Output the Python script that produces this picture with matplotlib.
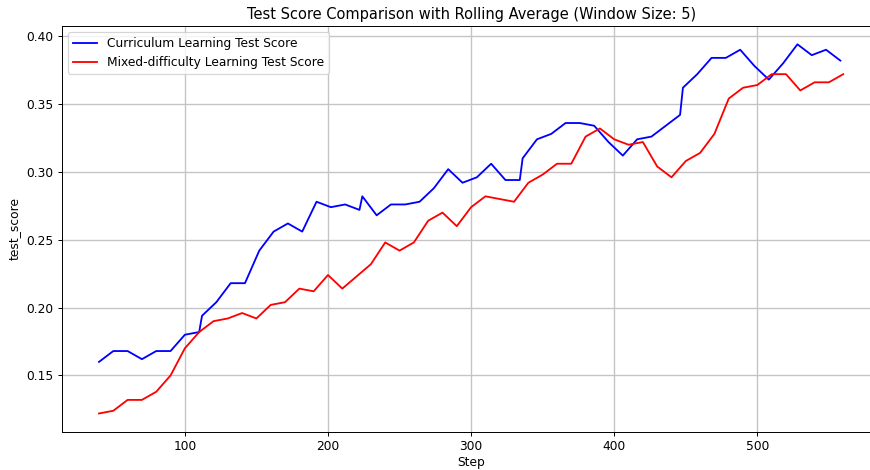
import matplotlib
matplotlib.use('Agg')
import matplotlib.pyplot as plt

# ── Dati (media mobile, finestra 5) ─────────────────────────────────────
# curriculum: log ogni 10 step dentro l'epoca + fine epoca (112 step/epoca)
curr_steps = [40, 50, 60, 70, 80, 90, 100, 110,
              112, 122, 132, 142, 152, 162, 172, 182, 192, 202, 212, 222,
              224, 234, 244, 254, 264, 274, 284, 294, 304, 314, 324, 334,
              336, 346, 356, 366, 376, 386, 396, 406, 416, 426, 436, 446,
              448, 458, 468, 478, 488, 498, 508, 518, 528, 538, 548, 558]
curr_score = [0.160, 0.168, 0.168, 0.162, 0.168, 0.168, 0.180, 0.182,
              0.194, 0.204, 0.218, 0.218, 0.242, 0.256, 0.262, 0.256, 0.278, 0.274, 0.276, 0.272,
              0.282, 0.268, 0.276, 0.276, 0.278, 0.288, 0.302, 0.292, 0.296, 0.306, 0.294, 0.294,
              0.310, 0.324, 0.328, 0.336, 0.336, 0.334, 0.322, 0.312, 0.324, 0.326, 0.334, 0.342,
              0.362, 0.372, 0.384, 0.384, 0.390, 0.378, 0.368, 0.380, 0.394, 0.386, 0.390, 0.382]

mixed_steps = list(range(40, 561, 10))
mixed_score = [0.122, 0.124, 0.132, 0.132, 0.138, 0.150, 0.170, 0.182,
               0.190, 0.192, 0.196, 0.192, 0.202, 0.204, 0.214, 0.212, 0.224,
               0.214, 0.223, 0.232, 0.248, 0.242, 0.248, 0.264, 0.270, 0.260, 0.274,
               0.282, 0.280, 0.278, 0.292, 0.298, 0.306, 0.306, 0.326, 0.332,
               0.324, 0.320, 0.322, 0.304, 0.296, 0.308, 0.314, 0.328, 0.354,
               0.362, 0.364, 0.372, 0.372, 0.360, 0.366, 0.366, 0.372]

# ── Grafico ──────────────────────────────────────────────────────────────
DPI = 88  # l'originale e' un'immagine piu' grande rimpicciolita
fig = plt.figure(figsize=(870 / DPI, 470 / DPI), dpi=DPI)
# l'immagine originale e' tagliata a destra: gli assi escono dal bordo
ax = fig.add_axes([0.071, 0.081, 0.941, 0.864])
ax.plot(curr_steps, curr_score, color='blue', label='Curriculum Learning Test Score')
ax.plot(mixed_steps, mixed_score, color='red', label='Mixed-difficulty Learning Test Score')
ax.set_title('Test Score Comparison with Rolling Average (Window Size: 5)')
ax.set_xlabel('Step', labelpad=2)
ax.set_ylabel('test_score')
ax.legend(loc='upper left')
ax.grid(True, color='#c4c4c4', lw=1.1)
fig.savefig('out.png', dpi=DPI)
